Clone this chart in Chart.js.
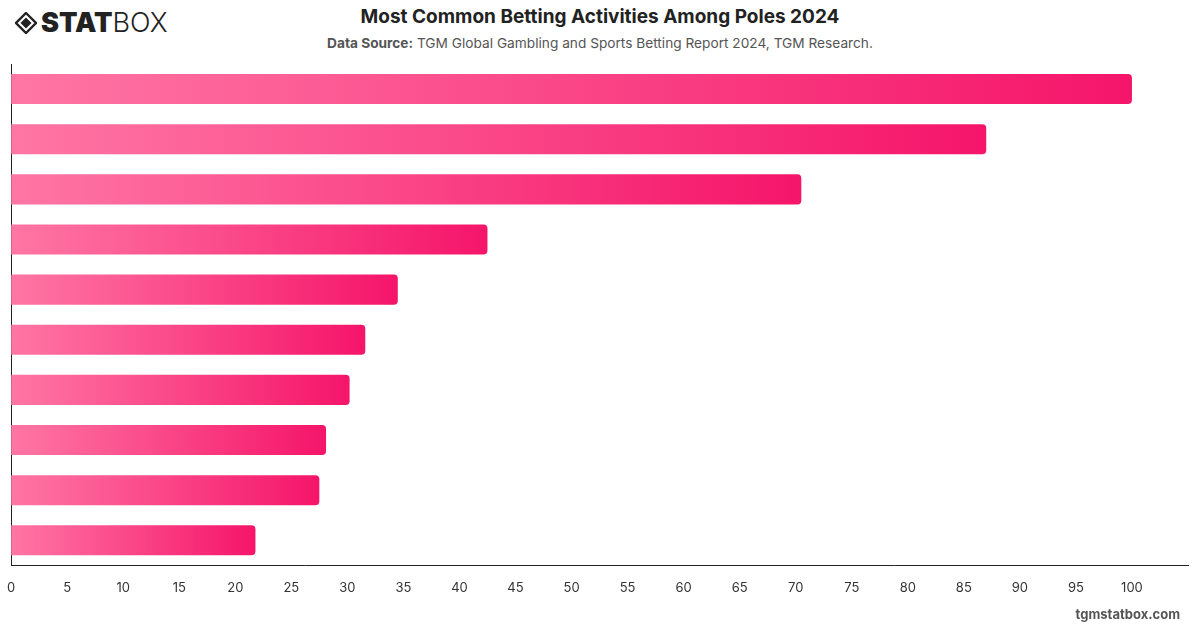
<!DOCTYPE html>
<html lang="en">
<head>
    <meta charset="UTF-8">
    <title>Most Common Betting Activities Among Poles 2024</title>
    <script src="https://cdn.jsdelivr.net/npm/chart.js@4.4.0/dist/chart.umd.min.js"></script>
    <style>
        body {
            margin: 0;
            width: 1200px;
            height: 628px;
            background: #fff;
            font-family: Inter, "Noto Sans", Arial, sans-serif;
            position: relative;
            overflow: hidden;
        }
        #logo {
            position: absolute;
            left: 15px;
            top: 6px;
            display: flex;
            align-items: center;
            color: #222;
        }
        #logo .stat { font-size: 27px; font-weight: 900; margin-left: 4px; }
        #logo .box { font-size: 27px; font-weight: 300; }
        #title {
            position: absolute;
            top: 5px;
            left: 0;
            width: 1200px;
            text-align: center;
            font-size: 19px;
            font-weight: 700;
            color: #222;
        }
        #subtitle {
            position: absolute;
            top: 35px;
            left: 0;
            width: 1200px;
            text-align: center;
            font-size: 13.7px;
            color: #555;
        }
        #subtitle b { font-weight: 700; }
        #footer {
            position: absolute;
            right: 20px;
            top: 606px;
            font-size: 13px;
            font-weight: 700;
            color: #555;
        }
        #chartBox {
            position: absolute;
            left: 0;
            top: 64px;
            width: 1200px;
            height: 564px;
        }
    </style>
</head>
<body>
    <div id="logo">
        <svg width="22" height="22" viewBox="0 0 22 22">
            <path d="M11 1 L21 11 L11 21 L1 11 Z" fill="none" stroke="#222" stroke-width="2.4"/>
            <path d="M11 5.5 L16.5 11 L11 16.5 L5.5 11 Z" fill="#222"/>
        </svg>
        <span class="stat">STAT</span><span class="box">BOX</span>
    </div>
    <div id="title">Most Common Betting Activities Among Poles 2024</div>
    <div id="subtitle"><b>Data Source:</b> TGM Global Gambling and Sports Betting Report 2024, TGM Research.</div>
    <div id="chartBox"><canvas id="betChart"></canvas></div>
    <div id="footer">tgmstatbox.com</div>

    <script>
        // Category names are not shown on the chart
        const activities = [
            'Lottery',
            'Scratch cards',
            'Sports betting',
            'Online casino',
            'Slot machines',
            'Poker',
            'Horse racing',
            'Esports betting',
            'Bingo',
            'Fantasy sports'
        ];
        const shares = [100, 87, 70.5, 42.5, 34.5, 31.6, 30.2, 28.1, 27.5, 21.8];
        const xTicksMax = 105;

        const ctx = document.getElementById('betChart').getContext('2d');

        function barGradient(context) {
            const chart = context.chart;
            if (!chart.chartArea) return '#f5156a';
            const xScale = chart.scales.x;
            const x0 = xScale.getPixelForValue(0);
            const x1 = xScale.getPixelForValue(context.raw);
            const g = chart.ctx.createLinearGradient(x0, 0, x1, 0);
            g.addColorStop(0, '#ff76a4');
            g.addColorStop(1, '#f5156a');
            return g;
        }

        new Chart(ctx, {
            type: 'bar',
            data: {
                labels: activities,
                datasets: [{
                    data: shares,
                    backgroundColor: barGradient,
                    borderRadius: 4,
                    borderSkipped: 'start',
                    barPercentage: 0.6,
                    categoryPercentage: 1
                }]
            },
            options: {
                indexAxis: 'y',
                responsive: true,
                maintainAspectRatio: false,
                animation: false,
                layout: {
                    padding: { left: 2, right: 12, top: 0, bottom: 25 }
                },
                plugins: {
                    legend: { display: false },
                    tooltip: { enabled: false }
                },
                scales: {
                    x: {
                        min: 0,
                        max: xTicksMax,
                        grid: { display: false },
                        border: { display: true, color: '#222', width: 1 },
                        ticks: {
                            stepSize: 5,
                            padding: 7,
                            color: '#333',
                            font: { family: 'Inter, "Noto Sans", Arial, sans-serif', size: 13 },
                            callback: v => (v > 100 ? '' : v)
                        }
                    },
                    y: {
                        grid: { display: false },
                        border: { display: true, color: '#222', width: 1 },
                        ticks: { display: false }
                    }
                }
            }
        });
    </script>
</body>
</html>
